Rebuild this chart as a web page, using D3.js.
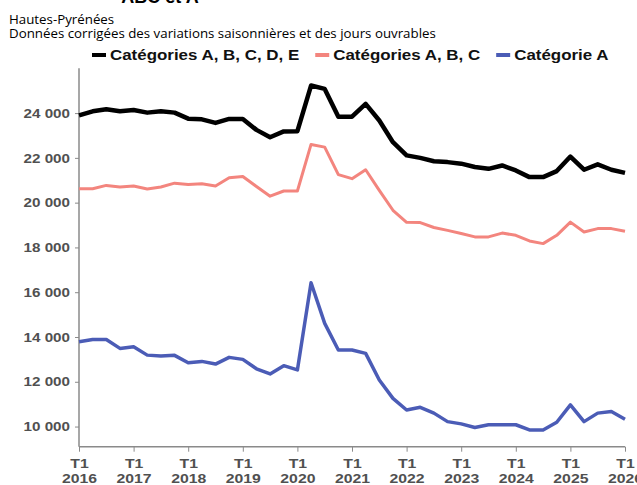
<!DOCTYPE html>
<html>
<head>
<meta charset="utf-8">
<script src="https://cdn.jsdelivr.net/npm/d3@7"></script>
<style>
  body { margin: 0; background: #fff; }
  svg { display: block; }
</style>
</head>
<body>
<svg id="chart"></svg>
<script>
// quarterly values, T1 2016 -> T1 2026
const abcde = [23900, 24080, 24170, 24080, 24140, 24020, 24080, 24020, 23750, 23720,
               23560, 23740, 23740, 23250, 22920, 23180, 23190, 25230, 25080, 23840,
               23840, 24410, 23670, 22700, 22110, 22000, 21850, 21810, 21740, 21590,
               21510, 21660, 21440, 21140, 21140, 21410, 22060, 21470, 21710, 21470, 21330];
const abc = [20620, 20620, 20770, 20700, 20740, 20610, 20700, 20870, 20810, 20840,
             20740, 21110, 21170, 20720, 20290, 20520, 20520, 22600, 22480, 21250,
             21070, 21470, 20550, 19660, 19120, 19110, 18890, 18760, 18620, 18470,
             18470, 18640, 18540, 18290, 18170, 18540, 19130, 18690, 18840, 18840, 18720];
const catA = [13790, 13890, 13890, 13490, 13560, 13190, 13150, 13180, 12850, 12910,
              12790, 13090, 13000, 12580, 12350, 12720, 12530, 16420, 14610, 13420,
              13420, 13270, 12080, 11260, 10740, 10860, 10600, 10220, 10120, 9960,
              10080, 10080, 10080, 9850, 9850, 10190, 10970, 10220, 10600, 10670, 10330];
const years = ['2016', '2017', '2018', '2019', '2020', '2021', '2022', '2023', '2024', '2025', '2026'];
const yTicks = [10000, 12000, 14000, 16000, 18000, 20000, 22000, 24000];

const series = [
  { name: 'Catégories A, B, C, D, E', values: abcde, color: '#000000', width: 4.5 },
  { name: 'Catégories A, B, C', values: abc, color: '#f3857e', width: 3 },
  { name: 'Catégorie A', values: catA, color: '#4b5cb6', width: 3.5 }
];

const width = 637, height = 485;
const svg = d3.select('#chart').attr('width', width).attr('height', height);

const x = d3.scaleLinear().domain([0, abcde.length - 1]).range([79, 625]);
const y = d3.scaleLinear().domain([9100, 26000]).range([446.7, 68.3]);

const fr = d3.formatLocale({ decimal: ',', thousands: '\u00a0', grouping: [3], currency: ['', ' €'] });
const fmt = fr.format(',');

const boldFont = 'Liberation Sans, Arial, sans-serif';
const stretch = 1.17;   // the source text is a bit wider than Arial

// title (cut at top in the source image)
svg.append('text')
  .attr('x', 160).attr('y', 3)
  .attr('text-anchor', 'middle')
  .style('font-family', boldFont)
  .style('font-weight', 'bold')
  .style('font-size', '18px')
  .text('ABC et A');

svg.append('text')
  .attr('x', 9).attr('y', 24)
  .style('font-family', 'Open Sans, sans-serif')
  .style('font-size', '13.3px')
  .text('Hautes-Pyrénées');

svg.append('text')
  .attr('x', 9).attr('y', 38)
  .style('font-family', 'Open Sans, sans-serif')
  .style('font-size', '13.3px')
  .text('Données corrigées des variations saisonnières et des jours ouvrables');

// legend, laid out one item after the other
const legendStretch = 1.21;
const legend = svg.append('g').attr('transform', 'translate(92,55)');
let cursor = 0;
series.forEach(s => {
  const item = legend.append('g').attr('transform', `translate(${cursor},0)`);
  item.append('line')
    .attr('x1', 0).attr('x2', 14)
    .attr('y1', 0).attr('y2', 0)
    .attr('stroke', s.color).attr('stroke-width', 4);
  const t = item.append('text')
    .attr('transform', `translate(18,5) scale(${legendStretch},1)`)
    .style('font-family', boldFont)
    .style('font-weight', 'bold')
    .style('font-size', '14px')
    .attr('fill', '#111')
    .text(s.name);
  cursor += 18 + t.node().getComputedTextLength() * legendStretch + 16;
});

// axes
const yAxis = d3.axisLeft(y).tickValues(yTicks).tickFormat(fmt).tickSize(4).tickPadding(5);
const gy = svg.append('g').attr('transform', 'translate(79,0)').call(yAxis);
gy.select('.domain').attr('stroke', '#8a8a8a').attr('stroke-width', 1.5)
  .attr('d', `M0,${y.range()[1]}V${y.range()[0]}`);
gy.selectAll('.tick line').attr('stroke', '#8a8a8a');
gy.selectAll('.tick text')
  .attr('x', -9 / stretch)
  .attr('transform', `scale(${stretch},1)`)
  .style('font-family', boldFont)
  .style('font-weight', 'bold')
  .style('font-size', '13px')
  .attr('fill', '#505050');

const xAxis = d3.axisBottom(x).tickValues(d3.range(0, abcde.length, 4)).tickFormat('').tickSize(5);
const gx = svg.append('g').attr('transform', `translate(0,${y.range()[0]})`).call(xAxis);
gx.select('.domain').attr('stroke', '#8a8a8a').attr('stroke-width', 1.5)
  .attr('d', `M${x.range()[0]},0H${x.range()[1]}`);
gx.selectAll('.tick line').attr('stroke', '#8a8a8a');
const lbl = gx.selectAll('.tick text')
  .attr('transform', `scale(${stretch},1)`)
  .style('font-family', boldFont)
  .style('font-weight', 'bold')
  .style('font-size', '13.5px')
  .attr('fill', '#505050')
  .attr('y', 0).attr('dy', null);
lbl.each(function(d, i) {
  const t = d3.select(this);
  t.append('tspan').attr('x', 0).attr('y', 21).text('T1');
  t.append('tspan').attr('x', 0).attr('y', 36).text(years[i]);
});

// lines
const line = d3.line().x((d, i) => x(i)).y(d => y(d));
svg.append('g').selectAll('path')
  .data(series)
  .join('path')
  .attr('d', d => line(d.values))
  .attr('fill', 'none')
  .attr('stroke', d => d.color)
  .attr('stroke-width', d => d.width)
  .attr('stroke-linejoin', 'round');
</script>
</body>
</html>
